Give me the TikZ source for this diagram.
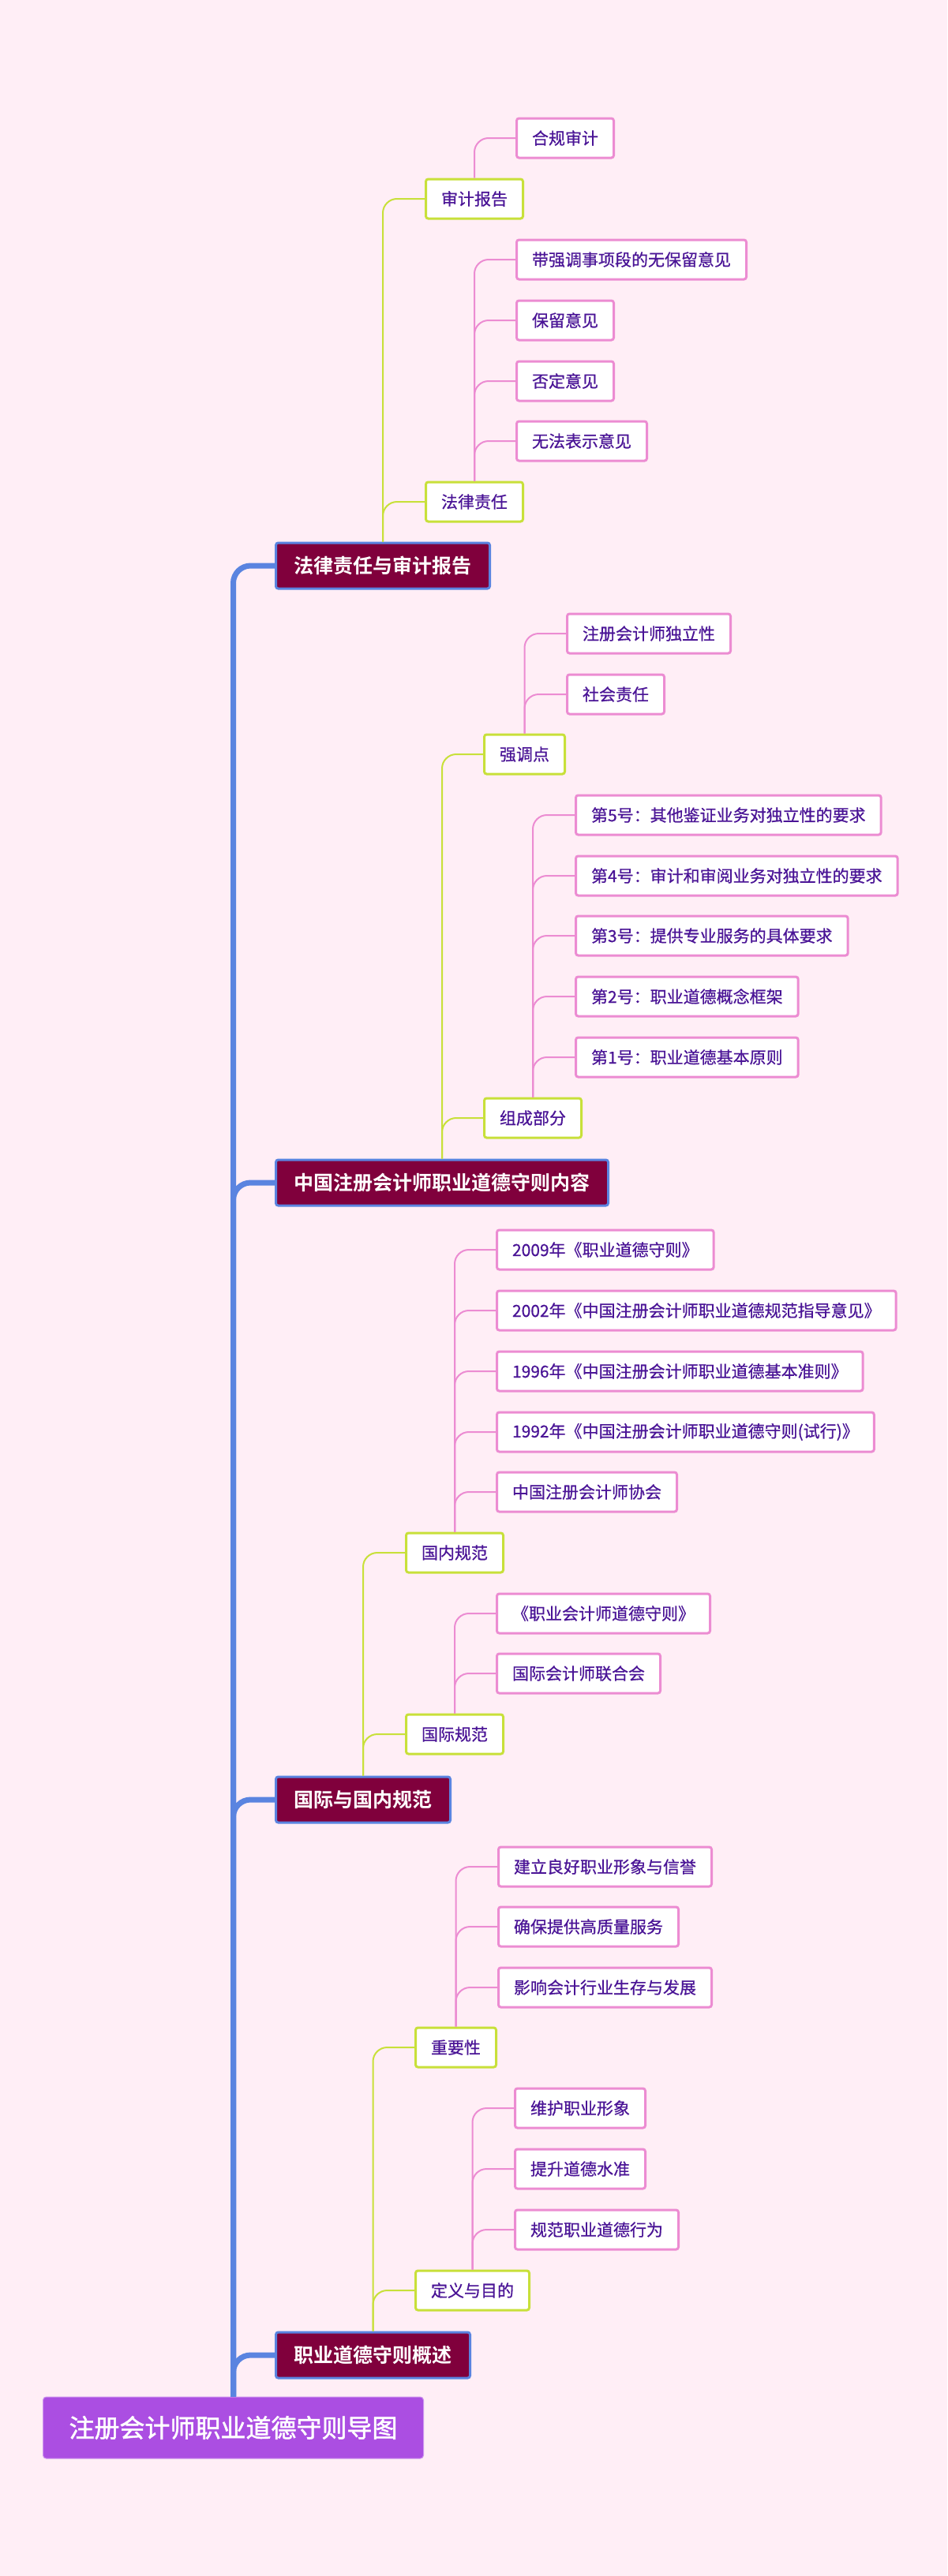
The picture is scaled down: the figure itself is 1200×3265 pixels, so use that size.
\documentclass[tikz,border=0pt]{standalone}
\usepackage{fontspec}
\newfontfamily\cjk{Noto Sans CJK SC}[BoldFont={Noto Sans CJK SC Bold}]
\newfontfamily\cjkmid{Noto Sans CJK SC}[FakeBold=0.6]
\newfontfamily\cjkroot{Noto Sans CJK SC}[FakeBold=1.6]
\definecolor{bgc}{HTML}{FFEEF6}
\definecolor{rootc}{HTML}{AB4EE2}
\definecolor{lonec}{HTML}{80003C}
\definecolor{blueln}{HTML}{5A84E0}
\definecolor{limec}{HTML}{C8E03A}
\definecolor{pinkc}{HTML}{EC8CD2}
\definecolor{txtc}{HTML}{4A1496}
\tikzset{
  rootbox/.style={draw=rootc!60!white, line width=1pt, fill=rootc, rounded corners=4pt, anchor=west,
    minimum height=78pt, inner xsep=33pt, inner ysep=0pt, text=white, font=\cjkroot\fontsize{32}{36}\selectfont},
  levone/.style={draw=blueln, line width=3pt, fill=lonec, rounded corners=3pt, anchor=west,
    minimum height=58pt, inner xsep=23pt, inner ysep=0pt, text=white, font=\cjk\bfseries\fontsize{25}{30}\selectfont},
  levtwo/.style={draw=limec, line width=3pt, fill=white, rounded corners=3pt, anchor=west,
    minimum height=50pt, inner xsep=19.5pt, inner ysep=0pt, text=txtc, font=\cjkmid\fontsize{21}{25}\selectfont},
  levthree/.style={draw=pinkc, line width=3pt, fill=white, rounded corners=3pt, anchor=west,
    minimum height=50pt, inner xsep=19.5pt, inner ysep=0pt, text=txtc, font=\cjkmid\fontsize{21}{25}\selectfont},
  trunk/.style={draw=blueln, line width=7pt, rounded corners=22pt},
  limeln/.style={draw=limec, line width=2pt, rounded corners=18pt},
  pinkln/.style={draw=pinkc, line width=2pt, rounded corners=18pt}
}
\begin{document}
\begin{tikzpicture}[x=1pt, y=-1pt]
\fill[bgc] (0,0) rectangle (1200,3265);
\useasboundingbox (0,0) rectangle (1200,3265);

% level 1
\node[levone] (A) at (348,717) {法律责任与审计报告};
\node[levone] (B) at (348,1499) {中国注册会计师职业道德守则内容};
\node[levone] (C) at (348,2281) {国际与国内规范};
\node[levone] (D) at (348,2985) {职业道德守则概述};

% level 2
\node[levtwo] (A1) at (538,252) {审计报告};
\node[levtwo] (A2) at (538,636) {法律责任};
\node[levtwo] (B1) at (612,956) {强调点};
\node[levtwo] (B2) at (612,1417) {组成部分};
\node[levtwo] (C1) at (513,1968) {国内规范};
\node[levtwo] (C2) at (513,2198) {国际规范};
\node[levtwo] (D1) at (525,2595) {重要性};
\node[levtwo] (D2) at (525,2903) {定义与目的};

% level 3
\node[levthree] (A1a) at (653,175) {合规审计};
\node[levthree] (A2a) at (653,329) {带强调事项段的无保留意见};
\node[levthree] (A2b) at (653,406) {保留意见};
\node[levthree] (A2c) at (653,483) {否定意见};
\node[levthree] (A2d) at (653,559) {无法表示意见};
\node[levthree] (B1a) at (717,803) {注册会计师独立性};
\node[levthree] (B1b) at (717,880) {社会责任};
\node[levthree] (B2a) at (728,1033) {第5号：其他鉴证业务对独立性的要求};
\node[levthree] (B2b) at (728,1110) {第4号：审计和审阅业务对独立性的要求};
\node[levthree] (B2c) at (728,1186) {第3号：提供专业服务的具体要求};
\node[levthree] (B2d) at (728,1263) {第2号：职业道德概念框架};
\node[levthree] (B2e) at (728,1340) {第1号：职业道德基本原则};
\node[levthree] (C1a) at (628,1584) {2009年《职业道德守则》};
\node[levthree] (C1b) at (628,1661) {2002年《中国注册会计师职业道德规范指导意见》};
\node[levthree] (C1c) at (628,1738) {1996年《中国注册会计师职业道德基本准则》};
\node[levthree] (C1d) at (628,1815) {1992年《中国注册会计师职业道德守则(试行)》};
\node[levthree] (C1e) at (628,1891) {中国注册会计师协会};
\node[levthree] (C2a) at (628,2045) {《职业会计师道德守则》};
\node[levthree] (C2b) at (628,2121) {国际会计师联合会};
\node[levthree] (D1a) at (630,2366) {建立良好职业形象与信誉};
\node[levthree] (D1b) at (630,2442) {确保提供高质量服务};
\node[levthree] (D1c) at (630,2519) {影响会计行业生存与发展};
\node[levthree] (D2a) at (651,2672) {维护职业形象};
\node[levthree] (D2b) at (651,2749) {提升道德水准};
\node[levthree] (D2c) at (651,2826) {规范职业道德行为};

% root
\node[rootbox, minimum width=482pt, inner xsep=0pt] (R) at (54,3077) {注册会计师职业道德守则导图};

% connectors
\foreach \p/\c in {A1/A1a, A2/A2a, A2/A2b, A2/A2c, A2/A2d, B1/B1a, B1/B1b,
  B2/B2a, B2/B2b, B2/B2c, B2/B2d, B2/B2e, C1/C1a, C1/C1b, C1/C1c, C1/C1d, C1/C1e,
  C2/C2a, C2/C2b, D1/D1a, D1/D1b, D1/D1c, D2/D2a, D2/D2b, D2/D2c}
  \draw[pinkln] (\p.north) |- (\c.west);
\foreach \p/\c in {A/A1, A/A2, B/B1, B/B2, C/C1, C/C2, D/D1, D/D2}
  \draw[limeln] (\p.north) |- (\c.west);
\foreach \c in {A, B, C, D}
  \draw[trunk] (R.north) |- (\c.west);
\end{tikzpicture}
\end{document}
